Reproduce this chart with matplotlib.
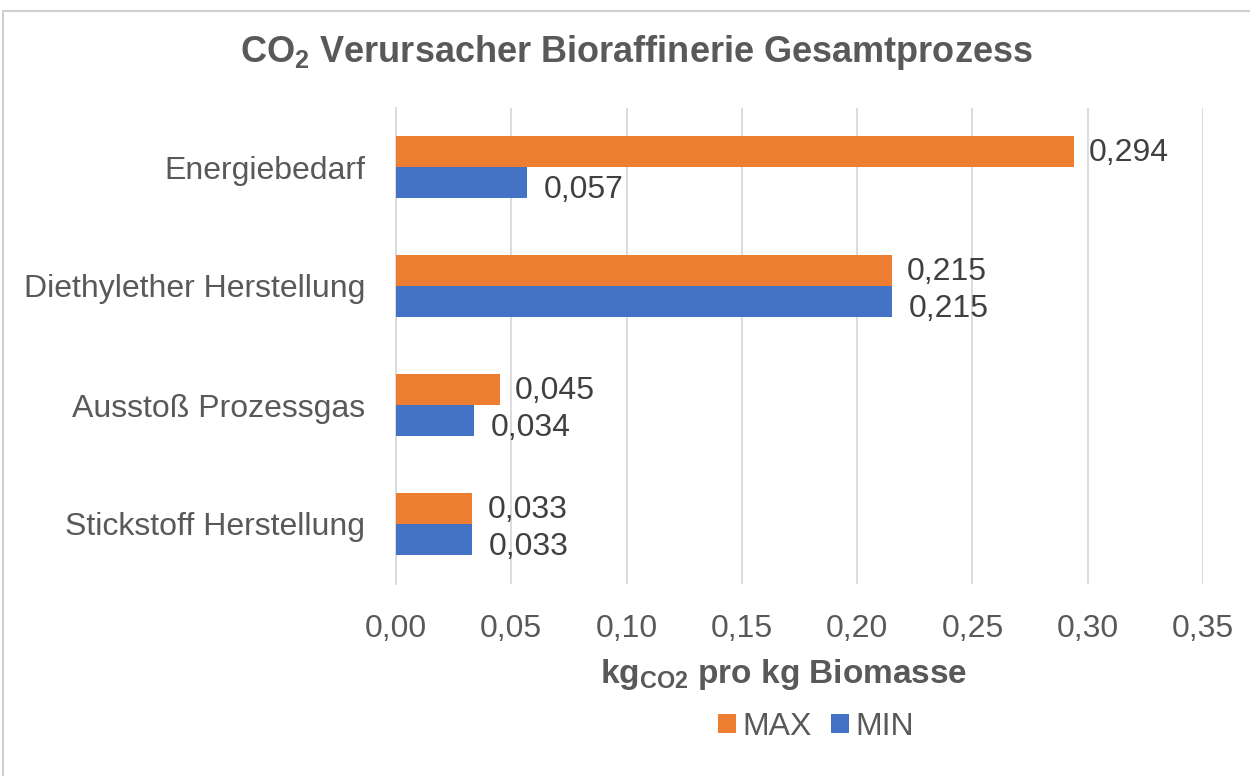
import matplotlib
matplotlib.use('Agg')
import matplotlib.pyplot as plt
import numpy as np
from matplotlib.patches import Rectangle

categories = ['Energiebedarf', 'Diethylether Herstellung', 'Ausstoß Prozessgas', 'Stickstoff Herstellung']
max_values = [0.294, 0.215, 0.045, 0.033]
min_values = [0.057, 0.215, 0.034, 0.033]
x_ticks = [0.00, 0.05, 0.10, 0.15, 0.20, 0.25, 0.30, 0.35]

plt.rcParams['font.family'] = ['Liberation Sans', 'DejaVu Sans']
plt.rcParams['mathtext.fontset'] = 'custom'
plt.rcParams['mathtext.rm'] = 'Liberation Sans'
plt.rcParams['mathtext.bf'] = 'Liberation Sans:bold'

text_color = '#595959'
orange = '#ED7D31'
blue = '#4472C4'
fs = 23

W, H = 1250, 776
fig = plt.figure(figsize=(W / 100, H / 100), dpi=100)
ax = fig.add_axes([396 / W, 1 - 583.5 / H, (1203 - 396) / W, (583.5 - 107.5) / H])

y = np.arange(len(categories))
bh = 0.26
ax.barh(y - bh / 2, max_values, height=bh, color=orange, label='MAX', zorder=3)
ax.barh(y + bh / 2, min_values, height=bh, color=blue, label='MIN', zorder=3)

# value labels next to each bar, decimal comma like the original
for i, (mx, mn) in enumerate(zip(max_values, min_values)):
    ax.annotate(f'{mx:.3f}'.replace('.', ','), (mx, i - bh / 2 + 0.01), xytext=(11, 0),
                textcoords='offset points', va='center', ha='left',
                fontsize=fs, color='#404040')
    ax.annotate(f'{mn:.3f}'.replace('.', ','), (mn, i + bh / 2 + 0.06), xytext=(12, 0),
                textcoords='offset points', va='center', ha='left',
                fontsize=fs, color='#404040')

ax.set_ylim(len(categories) - 0.5, -0.5)
ax.set_xlim(0, 0.35)
ax.set_yticks(y)
ax.set_yticklabels(categories, fontsize=fs, color=text_color)
ax.set_xticks(x_ticks)
ax.set_xticklabels([f'{t:.2f}'.replace('.', ',') for t in x_ticks], fontsize=fs, color=text_color)
ax.tick_params(length=0, pad=22)
ax.tick_params(axis='x', pad=22)
ax.grid(axis='x', color='#D9D9D9', linewidth=1.3, zorder=0)
for s in ['top', 'right', 'bottom']:
    ax.spines[s].set_visible(False)
ax.spines['left'].set_color('#D9D9D9')
ax.spines['left'].set_linewidth(1.3)

ax.set_xlabel(r'kg$_{\mathbf{CO2}}$ pro kg Biomasse', fontsize=24, fontweight='bold',
              color=text_color, labelpad=8)
ax.xaxis.set_label_coords(0.48, -0.155)

fig.text(636 / W, 1 - 53 / H, r'CO$_\mathbf{2}$ Verursacher Bioraffinerie Gesamtprozess',
         ha='center', va='center', fontsize=26, fontweight='bold', color=text_color)

leg = fig.legend(loc='center', bbox_to_anchor=(816 / W, 1 - 727 / H), ncol=2, frameon=False,
                 fontsize=fs, handlelength=0.55, handleheight=0.55, handletextpad=0.2,
                 columnspacing=0.6)
for t in leg.get_texts():
    t.set_color(text_color)

# light frame of the chart area
fig.patches.append(Rectangle((3 / W, -0.1), 1.2, 1 - 11 / H + 0.1, transform=fig.transFigure,
                             fill=False, edgecolor='#D0D0D0', linewidth=1.5))

fig.savefig('out.png', dpi=100)
